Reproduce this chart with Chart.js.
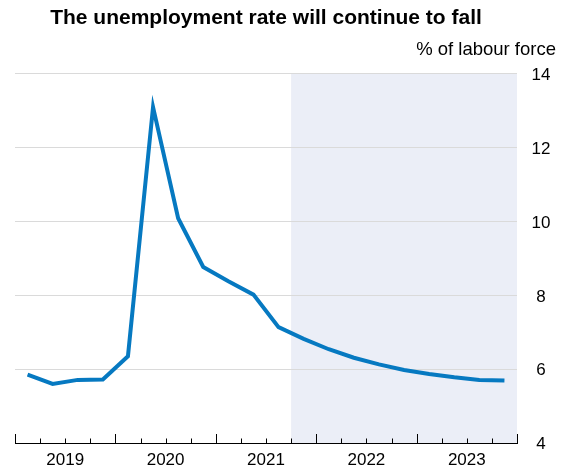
<!DOCTYPE html>
<html>
<head>
<meta charset="utf-8">
<script src="https://cdn.jsdelivr.net/npm/chart.js@4.4.1/dist/chart.umd.min.js"></script>
<style>
  body { margin: 0; background: #fff; }
</style>
</head>
<body>
<canvas id="chart" width="563" height="468"></canvas>
<script>
// quarterly series, 2019 Q1 .. 2023 Q4
const quarters = [
  '2019 Q1', '2019 Q2', '2019 Q3', '2019 Q4',
  '2020 Q1', '2020 Q2', '2020 Q3', '2020 Q4',
  '2021 Q1', '2021 Q2', '2021 Q3', '2021 Q4',
  '2022 Q1', '2022 Q2', '2022 Q3', '2022 Q4',
  '2023 Q1', '2023 Q2', '2023 Q3', '2023 Q4'
];
const unemployment = [
  5.85, 5.60, 5.71, 5.72,
  6.35, 13.10, 10.09, 8.77,
  8.38, 8.02, 7.14, 6.82,
  6.54, 6.31, 6.13, 5.98,
  5.87, 5.78, 5.71, 5.69
];
const years = ['2019', '2020', '2021', '2022', '2023'];
const yTicks = [4, 6, 8, 10, 12, 14];
const forecastFrom = '2021 Q4';

const FONT = '"Liberation Sans", Arial, sans-serif';

// shaded forecast period + upward quarter/year tick marks on the x axis
const quarterMarks = {
  id: 'quarterMarks',
  beforeDraw(chart) {
    const { ctx, chartArea } = chart;
    const xs = chart.scales.x;
    const start = xs.getPixelForValue(quarters.indexOf(forecastFrom));
    ctx.save();
    ctx.fillStyle = '#ebeef7';
    ctx.fillRect(start, chartArea.top, chartArea.right - start, chartArea.bottom - chartArea.top);
    ctx.restore();
  },
  afterDraw(chart) {
    const { ctx } = chart;
    const xs = chart.scales.x;
    const base = chart.chartArea.bottom;
    ctx.save();
    ctx.strokeStyle = '#000';
    ctx.lineWidth = 1;
    for (let i = 0; i <= quarters.length; i++) {
      const x = Math.round(xs.getPixelForValue(i)) + 0.5;
      const len = i % 4 === 0 ? 9 : 4.5;
      ctx.beginPath();
      ctx.moveTo(x, base);
      ctx.lineTo(x, base - len);
      ctx.stroke();
    }
    ctx.restore();
  }
};

new Chart(document.getElementById('chart'), {
  type: 'line',
  data: {
    datasets: [{
      label: 'Unemployment rate',
      data: unemployment.map((v, i) => ({ x: i + 0.5, y: v })),
      borderColor: '#0679c1',
      borderWidth: 4,
      pointRadius: 0,
      tension: 0,
      borderJoinStyle: 'miter',
      fill: false
    }]
  },
  options: {
    responsive: false,
    animation: false,
    layout: { padding: { left: 15, right: 7, top: 0, bottom: 0 } },
    plugins: {
      legend: { display: false },
      tooltip: { enabled: false },
      title: {
        display: true,
        text: 'The unemployment rate will continue to fall',
        fullSize: false,
        color: '#000',
        font: { family: FONT, size: 21, weight: 'bold', lineHeight: 1.2 },
        padding: { top: 6, bottom: 0 }
      },
      subtitle: {
        display: true,
        text: '% of labour force',
        align: 'end',
        color: '#000',
        font: { family: FONT, size: 18.5, lineHeight: 1.2 },
        padding: { top: 8, bottom: 12.5 }
      }
    },
    scales: {
      x: {
        type: 'linear',
        min: 0,
        max: quarters.length,
        afterFit: s => { s.height = 25; },
        afterBuildTicks: s => {
          s.ticks = quarters.map((q, i) => ({ value: i })).concat({ value: quarters.length });
        },
        ticks: {
          autoSkip: false,
          maxRotation: 0,
          padding: 7,
          color: '#000',
          font: { family: FONT, size: 17, lineHeight: 1.2 },
          callback: v => (v % 4 === 2 ? years[(v - 2) / 4] : '')
        },
        grid: { display: true, drawOnChartArea: false, drawTicks: false },
        border: { display: true, color: '#000', width: 1 }
      },
      y: {
        position: 'right',
        min: 4,
        max: 14,
        afterFit: s => { s.width = 39; },
        afterBuildTicks: s => { s.ticks = yTicks.map(v => ({ value: v })); },
        ticks: {
          padding: 14.5,
          labelOffset: 1.5,
          crossAlign: 'center',
          color: '#000',
          font: { family: FONT, size: 17, lineHeight: 1.2 }
        },
        grid: {
          drawTicks: false,
          lineWidth: 1,
          color: c => (c.tick && c.tick.value === 4 ? 'rgba(0,0,0,0)' : '#dadada')
        },
        border: { display: false }
      }
    }
  },
  plugins: [quarterMarks]
});
</script>
</body>
</html>
